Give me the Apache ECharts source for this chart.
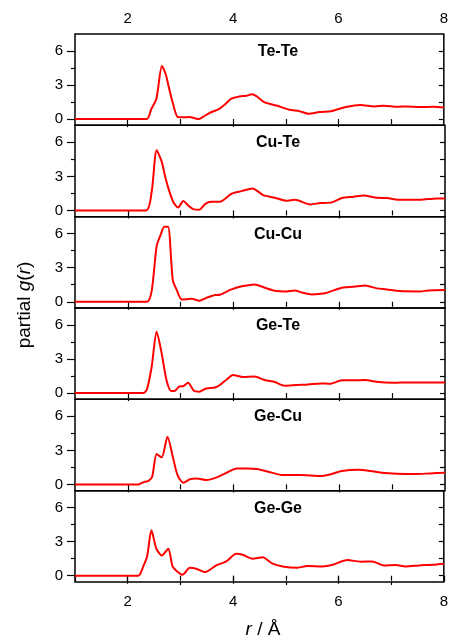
<!DOCTYPE html>
<html>
<head>
<meta charset="utf-8">
<script src="https://cdn.jsdelivr.net/npm/echarts@6/dist/echarts.min.js"></script>
<style>
html,body{margin:0;padding:0;background:#fff;}
#chart{width:451px;height:642px;}
</style>
</head>
<body>
<div id="chart"></div>
<script>
// ---- data ----
const panelNames = ['Te-Te', 'Cu-Te', 'Cu-Cu', 'Ge-Te', 'Ge-Cu', 'Ge-Ge'];
const xTickLabels = [2, 4, 6, 8];
const yTickLabels = [0, 3, 6];

const teTe = [[1,0],[2.36,0],[2.45,0.91],[2.545,1.79],[2.65,4.68],[2.72,4.0],[2.78,2.82],[2.86,1.35],[2.95,0.18],[3.05,0.16],[3.18,0.18],[3.27,0.08],[3.35,0],[3.45,0.25],[3.55,0.53],[3.74,0.91],[3.85,1.3],[3.96,1.79],[4.12,2.0],[4.25,2.05],[4.36,2.2],[4.45,2.0],[4.59,1.5],[4.82,1.2],[5.07,0.82],[5.26,0.7],[5.43,0.47],[5.64,0.62],[5.86,0.7],[6.14,1.06],[6.42,1.24],[6.68,1.12],[6.86,1.18],[7.12,1.09],[7.30,1.12],[7.53,1.06],[7.81,1.09],[8,1.03]];
const cuTe = [[1,0],[2.34,0],[2.45,1.62],[2.545,5.3],[2.64,4.3],[2.70,3.1],[2.77,1.9],[2.86,0.74],[2.95,0.26],[3.05,0.82],[3.14,0.44],[3.25,0.09],[3.35,0.06],[3.46,0.56],[3.58,0.76],[3.74,0.76],[3.96,1.47],[4.15,1.7],[4.36,1.94],[4.56,1.35],[4.78,1.12],[5.0,0.85],[5.16,0.94],[5.45,0.53],[5.64,0.65],[5.86,0.71],[6.05,1.09],[6.27,1.21],[6.46,1.32],[6.71,1.12],[6.90,1.09],[7.12,0.94],[7.53,0.94],[7.84,1.06],[8,1.05]];
const cuCu = [[1,0],[2.36,0],[2.45,0.94],[2.545,4.9],[2.62,5.9],[2.69,6.6],[2.76,6.6],[2.85,1.9],[2.92,1.09],[3.02,0.2],[3.21,0.26],[3.35,0.09],[3.49,0.35],[3.65,0.59],[3.74,0.62],[3.96,1.09],[4.18,1.38],[4.40,1.53],[4.59,1.24],[4.78,0.97],[4.97,0.91],[5.16,1.0],[5.29,0.82],[5.48,0.65],[5.73,0.74],[5.89,1.0],[6.05,1.24],[6.27,1.32],[6.49,1.44],[6.71,1.18],[6.90,1.09],[7.15,0.94],[7.53,0.91],[7.68,1.0],[8,1.03]];
const geTe = [[1,0],[2.29,0],[2.36,0.32],[2.45,2.3],[2.545,5.4],[2.64,3.5],[2.73,1.15],[2.82,0.18],[2.89,0.2],[2.97,0.56],[3.05,0.62],[3.14,0.91],[3.25,0.2],[3.35,0.12],[3.48,0.41],[3.65,0.5],[3.74,0.71],[3.87,1.2],[3.99,1.59],[4.18,1.41],[4.40,1.47],[4.59,1.15],[4.78,0.97],[4.97,0.65],[5.19,0.71],[5.41,0.76],[5.64,0.85],[5.82,0.82],[6.05,1.12],[6.27,1.12],[6.49,1.15],[6.74,0.97],[7.02,0.91],[7.34,0.94],[7.65,0.94],[8,0.94]];
const geCu = [[1,0],[2.2,0],[2.29,0.18],[2.39,0.32],[2.46,0.68],[2.545,2.68],[2.64,2.38],[2.75,4.2],[2.85,2.44],[2.94,0.82],[3.05,0.15],[3.18,0.47],[3.30,0.53],[3.49,0.38],[3.68,0.62],[3.87,1.03],[4.06,1.41],[4.25,1.41],[4.44,1.35],[4.66,1.12],[4.94,0.82],[5.26,0.82],[5.64,0.74],[5.82,0.88],[6.05,1.18],[6.36,1.29],[6.55,1.21],[6.80,1.03],[7.09,0.94],[7.43,0.91],[7.72,0.97],[8,1.03]];
const geGe = [[1,0],[2.2,0],[2.29,0.76],[2.37,1.74],[2.45,4.0],[2.545,2.38],[2.65,1.79],[2.77,2.38],[2.85,0.85],[2.94,0.38],[3.04,0.09],[3.18,0.71],[3.30,0.62],[3.47,0.32],[3.68,0.91],[3.87,1.26],[4.06,1.94],[4.18,1.85],[4.37,1.5],[4.56,1.62],[4.75,1.06],[4.94,0.82],[5.22,0.71],[5.41,0.85],[5.70,0.82],[5.89,0.97],[6.17,1.38],[6.42,1.24],[6.64,1.26],[6.86,0.91],[7.09,0.94],[7.27,0.82],[7.53,0.91],[7.78,0.97],[8,1.06]];
const panelData = [teTe, cuTe, cuCu, geTe, geCu, geGe];

// ---- layout ----
const FONT = "'Liberation Sans', Arial, sans-serif";
const LEFT = 75, WIDTH = 370, TOP0 = 34, PH = 91.33;
const XMIN = 1, XMAX = 8, YMIN = -0.55, YMAX = 7.5;
const tickLine = {color: '#000', width: 1.2};
const LABEL_FS = 15;

const grids = [], xAxes = [], yAxes = [], series = [], graphics = [];
const N = panelNames.length;
for (let i = 0; i < N; i++) {
  grids.push({left: LEFT, width: WIDTH, top: TOP0 + PH * i, height: PH,
    show: true, borderColor: '#000', borderWidth: 1.5, backgroundColor: 'transparent'});
  const xBase = xAxes.length;
  // top major
  xAxes.push({gridIndex: i, type: 'value', position: 'top', min: XMIN, max: XMAX,
    axisLine: {show: false}, splitLine: {show: false},
    axisTick: {show: true, inside: true, length: 8, customValues: [2, 4, 6], lineStyle: tickLine},
    axisLabel: {show: i === 0, customValues: xTickLabels, color: '#000', fontSize: LABEL_FS, fontFamily: FONT, margin: 8}});
  // top minor
  xAxes.push({gridIndex: i, type: 'value', position: 'top', min: XMIN, max: XMAX,
    axisLine: {show: false}, splitLine: {show: false},
    axisTick: {show: true, inside: true, length: 5, customValues: [3, 5, 7], lineStyle: tickLine},
    axisLabel: {show: false}});
  if (i === N - 1) {
    xAxes.push({gridIndex: i, type: 'value', position: 'bottom', min: XMIN, max: XMAX,
      axisLine: {show: false}, splitLine: {show: false},
      axisTick: {show: true, inside: false, length: 6, customValues: [1, 2, 4, 6, 8], lineStyle: tickLine},
      axisLabel: {show: true, customValues: xTickLabels, color: '#000', fontSize: LABEL_FS, fontFamily: FONT, margin: 12}});
    xAxes.push({gridIndex: i, type: 'value', position: 'bottom', min: XMIN, max: XMAX,
      axisLine: {show: false}, splitLine: {show: false},
      axisTick: {show: true, inside: false, length: 3, customValues: [3, 5, 7], lineStyle: tickLine},
      axisLabel: {show: false}});
  }
  const yBase = yAxes.length;
  yAxes.push({gridIndex: i, type: 'value', position: 'left', min: YMIN, max: YMAX,
    axisLine: {show: false}, splitLine: {show: false},
    axisTick: {show: true, inside: false, length: 8, customValues: [0, 3, 6], lineStyle: tickLine},
    axisLabel: {show: true, customValues: yTickLabels, color: '#000', fontSize: LABEL_FS, fontFamily: FONT, margin: 12}});
  yAxes.push({gridIndex: i, type: 'value', position: 'left', min: YMIN, max: YMAX,
    axisLine: {show: false}, splitLine: {show: false},
    axisTick: {show: true, inside: false, length: 4, customValues: [1.5, 4.5], lineStyle: tickLine},
    axisLabel: {show: false}});
  yAxes.push({gridIndex: i, type: 'value', position: 'right', min: YMIN, max: YMAX,
    axisLine: {show: false}, splitLine: {show: false},
    axisTick: {show: true, inside: true, length: 5, customValues: [0, 1.5, 3, 4.5, 6], lineStyle: tickLine},
    axisLabel: {show: false}});
  series.push({type: 'line', name: panelNames[i], xAxisIndex: xBase, yAxisIndex: yBase,
    data: panelData[i], showSymbol: false, symbol: 'none', smooth: 0.25,
    lineStyle: {color: '#ff0000', width: 2}, z: 3, animation: false});
  graphics.push({type: 'text', x: 278, y: TOP0 + PH * i + 17.5,
    style: {text: panelNames[i], font: "bold 16px " + FONT, fill: '#000',
      textAlign: 'center', textVerticalAlign: 'middle'}});
}

graphics.push({type: 'text', x: 25, y: 305, rotation: Math.PI / 2,
  style: {text: '{n|partial }{i|g}{n|(}{i|r}{n|)}', fill: '#000',
    textAlign: 'center', textVerticalAlign: 'middle',
    rich: {n: {fontSize: 19, fontFamily: FONT, fill: '#000'},
           i: {fontSize: 19, fontFamily: FONT, fontStyle: 'italic', fill: '#000'}}}});
graphics.push({type: 'text', x: 263, y: 630,
  style: {text: '{i|r}{n| / Å}', fill: '#000',
    textAlign: 'center', textVerticalAlign: 'middle',
    rich: {n: {fontSize: 19, fontFamily: FONT, fill: '#000'},
           i: {fontSize: 19, fontFamily: FONT, fontStyle: 'italic', fill: '#000'}}}});

const chart = echarts.init(document.getElementById('chart'), null, {renderer: 'canvas'});
chart.setOption({
  animation: false,
  backgroundColor: '#fff',
  grid: grids, xAxis: xAxes, yAxis: yAxes, series: series, graphic: graphics
});
</script>
</body>
</html>
